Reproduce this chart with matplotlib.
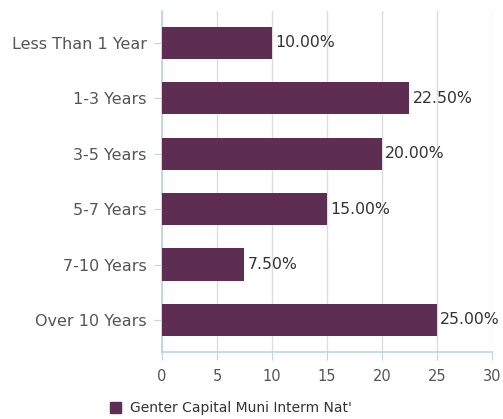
import matplotlib.pyplot as plt
import numpy as np

categories = ['Less Than 1 Year', '1-3 Years', '3-5 Years', '5-7 Years', '7-10 Years', 'Over 10 Years']
values = [10.0, 22.5, 20.0, 15.0, 7.5, 25.0]
series_name = "Genter Capital Muni Interm Nat'"
xticks = [0, 5, 10, 15, 20, 25, 30]

bar_color = '#5e2d52'
text_color = '#555555'
axis_color = '#b9d7df'
grid_color = '#dddddd'

fig = plt.figure(figsize=(5.03, 4.19), dpi=100)
ax = fig.add_axes([0.322, 0.160, 0.656, 0.814])

y = np.arange(len(categories))
ax.barh(y, values, height=0.58, color=bar_color, zorder=3)
for yi, v in zip(y, values):
    ax.text(v + 0.3, yi, f'{v:.2f}%', va='center', ha='left', fontsize=11.3, color='#333333', zorder=4)

ax.set_ylim(5.578, -0.578)
ax.set_xlim(0, 30)
ax.set_xticks(xticks)
ax.set_yticks(y)
ax.set_yticklabels(categories)
ax.xaxis.grid(True, color=grid_color, linewidth=1, zorder=0)

for s in ['top', 'right']:
    ax.spines[s].set_visible(False)
for s in ['left', 'bottom']:
    ax.spines[s].set_color(axis_color)
    ax.spines[s].set_linewidth(1.2)

ax.tick_params(axis='y', colors=axis_color, labelcolor=text_color, labelsize=11.5, length=6, pad=5)
ax.tick_params(axis='x', colors=axis_color, labelcolor=text_color, labelsize=10.5, length=6, pad=6)

fig.legend(handles=[plt.Rectangle((0, 0), 1, 1, color=bar_color)], labels=[series_name],
           loc='center left', bbox_to_anchor=(0.219, 0.026), frameon=False, fontsize=10,
           handlelength=0.8, handleheight=0.8, handletextpad=0.6, labelcolor='#333333',
           borderpad=0, borderaxespad=0)

fig.savefig('out.png', dpi=100)
